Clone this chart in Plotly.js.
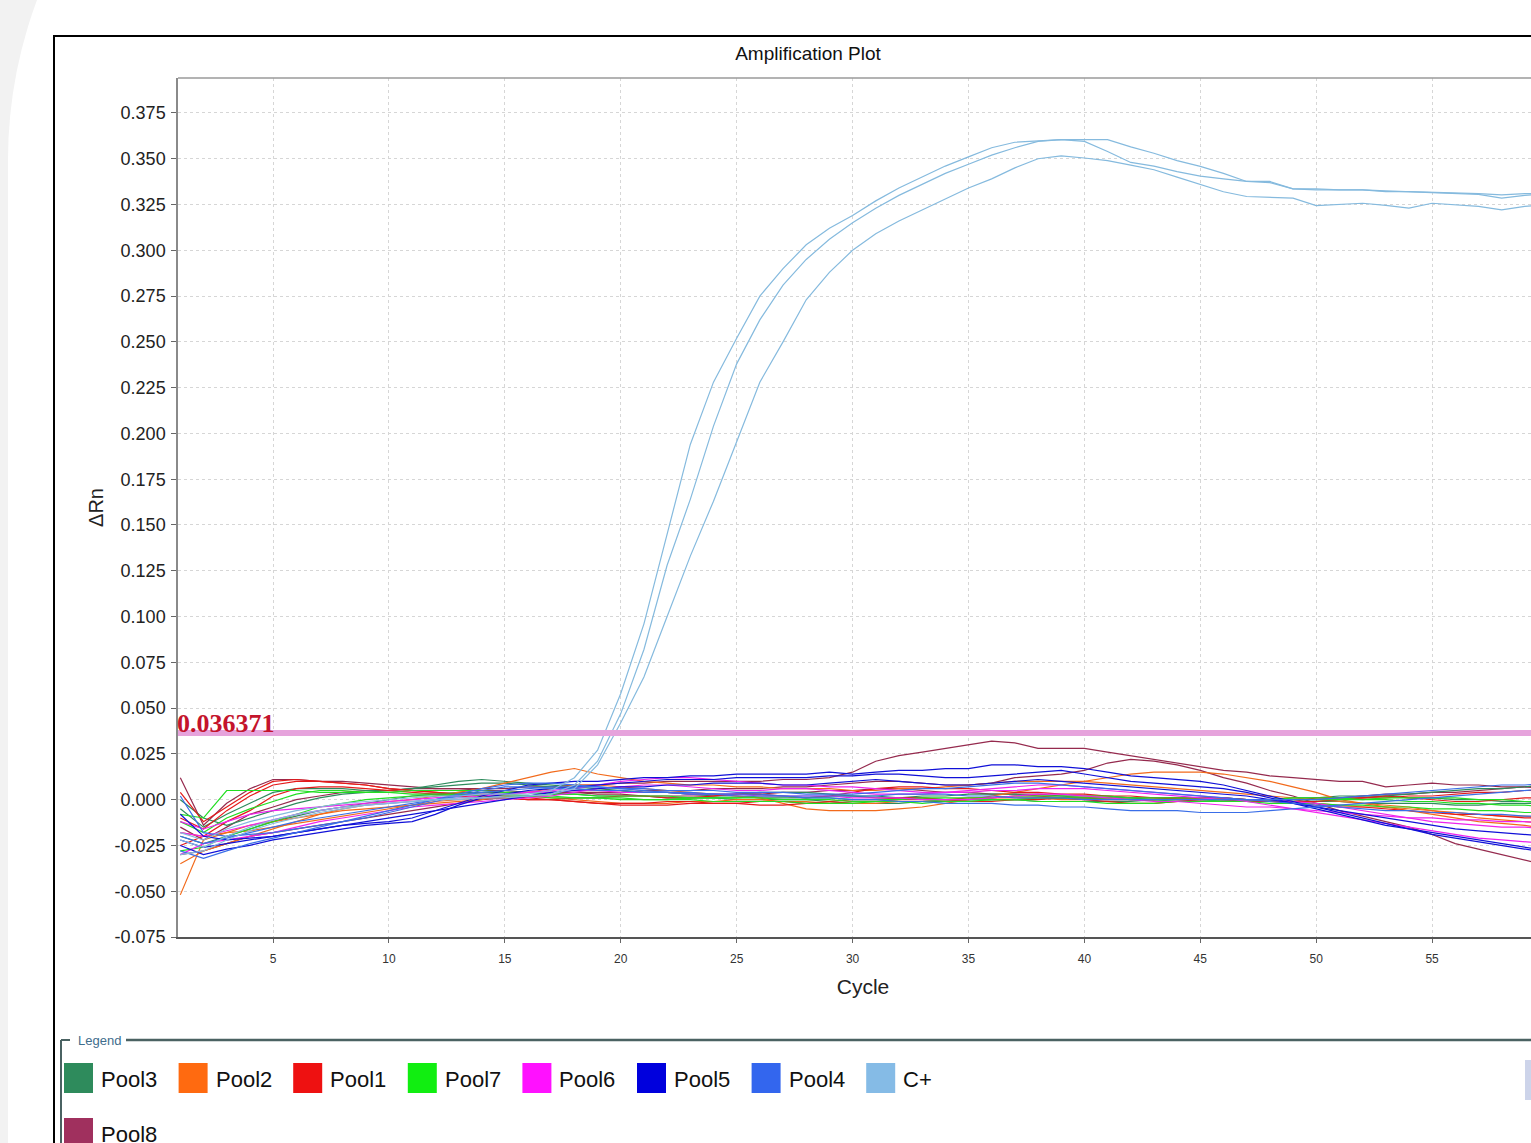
<!DOCTYPE html>
<html>
<head>
<meta charset="utf-8">
<script src="https://cdn.plot.ly/plotly-3.0.1.min.js"></script>
<style>
html,body{margin:0;padding:0;width:1531px;height:1143px;overflow:hidden;background:#f2f2f2;}
#white{position:absolute;left:8px;top:-296px;width:2000px;height:2000px;background:#fff;border-top-left-radius:456px;}
#box{position:absolute;left:53px;top:35px;width:2000px;height:2000px;border:2px solid #000;box-sizing:border-box;background:#fff;}
#chart{position:absolute;left:0;top:0;width:1563px;height:1143px;}
</style>
</head>
<body>
<div id="white"></div>
<div id="box"></div>
<div id="chart"></div>
<script>
// ---------------- DATA ----------------
const cycles = [1,2,3,4,5,6,7,8,9,10,11,12,13,14,15,16,17,18,19,20,21,22,23,24,25,26,27,28,29,30,
  31,32,33,34,35,36,37,38,39,40,41,42,43,44,45,46,47,48,49,50,51,52,53,54,55,56,57,58,59,60];

const threshold = 0.036371;

const xTickVals = [5,10,15,20,25,30,35,40,45,50,55];
const yTickVals = [-0.075,-0.05,-0.025,0,0.025,0.05,0.075,0.1,0.125,0.15,0.175,0.2,0.225,0.25,0.275,0.3,0.325,0.35,0.375];
const yTickText = ['-0.075','-0.050','-0.025','0.000','0.025','0.050','0.075','0.100','0.125','0.150','0.175','0.200','0.225','0.250','0.275','0.300','0.325','0.350','0.375'];

const cplus_a = [-0.018,-0.022,-0.016,-0.012,-0.009,-0.006,-0.004,-0.002,-0.001,0.000,
  0.001,0.002,0.002,0.003,0.003,0.003,0.005,0.012,0.027,0.058,
  0.096,0.145,0.194,0.228,0.252,0.275,0.290,0.303,0.312,0.319,
  0.327,0.334,0.340,0.346,0.351,0.356,0.359,0.3595,0.3604,0.3595,
  0.354,0.348,0.346,0.343,0.3405,0.339,0.3376,0.3376,0.3336,0.3336,
  0.333,0.333,0.332,0.332,0.3317,0.3317,0.331,0.3303,0.331,0.331];
const cplus_b = [-0.022,-0.026,-0.020,-0.015,-0.011,-0.008,-0.006,-0.004,-0.003,-0.002,
  -0.001,0.000,0.001,0.001,0.002,0.002,0.003,0.008,0.021,0.047,
  0.082,0.128,0.164,0.204,0.238,0.262,0.281,0.295,0.306,0.315,
  0.323,0.330,0.336,0.342,0.347,0.352,0.356,0.3595,0.3604,0.3604,
  0.3604,0.3565,0.353,0.349,0.3458,0.342,0.3376,0.337,0.3336,0.333,
  0.333,0.333,0.3325,0.332,0.3317,0.331,0.3305,0.3285,0.330,0.331];
const cplus_c = [-0.030,-0.028,-0.022,-0.017,-0.013,-0.010,-0.007,-0.005,-0.003,-0.002,
  -0.001,0.000,0.000,0.001,0.001,0.002,0.003,0.006,0.019,0.042,
  0.067,0.100,0.133,0.163,0.196,0.228,0.250,0.273,0.288,0.300,
  0.309,0.316,0.322,0.328,0.334,0.339,0.345,0.350,0.3516,0.3504,
  0.349,0.3465,0.344,0.340,0.336,0.332,0.3294,0.329,0.3285,0.3244,
  0.325,0.3257,0.3245,0.323,0.3257,0.325,0.324,0.3221,0.324,0.325];

const pool1_a = [0.004,-0.012,-0.004,0.004,0.010,0.011,0.010,0.009,0.008,0.006,
  0.005,0.004,0.003,0.002,0.001,0.000,0.000,-0.001,-0.002,-0.003,
  -0.003,-0.003,-0.002,-0.002,-0.002,-0.001,-0.001,-0.002,-0.002,-0.001,
  -0.001,0.000,0.000,0.000,0.001,0.001,0.002,0.002,0.001,0.001,
  0.001,0.000,0.000,0.001,0.001,0.001,0.000,0.000,-0.001,-0.001,
  0.000,0.001,0.001,0.002,0.002,0.003,0.004,0.004,0.005,0.005];
const pool1_b = [-0.010,-0.016,-0.006,0.002,0.008,0.010,0.010,0.009,0.008,0.006,
  0.005,0.004,0.003,0.003,0.002,0.001,0.000,-0.001,-0.002,-0.002,
  -0.002,-0.001,-0.001,-0.002,-0.002,-0.003,-0.003,-0.002,-0.001,0.000,
  0.000,0.001,0.001,0.000,-0.001,-0.001,0.000,0.000,0.001,0.000,
  -0.001,-0.002,-0.002,-0.001,0.000,0.000,-0.001,-0.001,-0.001,0.001,
  0.001,0.001,0.002,0.001,0.000,-0.001,-0.001,0.000,0.001,0.001];
const pool1_c = [-0.025,-0.020,-0.012,-0.006,0.002,0.006,0.007,0.007,0.006,0.005,
  0.004,0.003,0.002,0.001,0.001,0.000,0.000,0.001,0.001,0.002,
  0.002,0.001,0.001,0.002,0.003,0.003,0.002,0.001,0.002,0.004,
  0.006,0.007,0.007,0.006,0.006,0.005,0.004,0.004,0.003,0.003,
  0.002,0.002,0.001,0.001,0.001,0.000,0.000,-0.001,-0.002,-0.003,
  -0.004,-0.004,-0.005,-0.006,-0.007,-0.008,-0.008,-0.009,-0.010,-0.010];

const pool8_a = [0.012,-0.014,-0.002,0.006,0.011,0.011,0.010,0.010,0.009,0.008,
  0.007,0.006,0.006,0.006,0.006,0.007,0.007,0.008,0.008,0.009,
  0.009,0.010,0.010,0.010,0.010,0.010,0.011,0.011,0.012,0.015,
  0.021,0.024,0.026,0.028,0.030,0.032,0.031,0.028,0.028,0.028,
  0.026,0.024,0.022,0.020,0.018,0.016,0.015,0.013,0.012,0.011,
  0.010,0.010,0.007,0.008,0.009,0.008,0.008,0.007,0.007,0.006];
const pool8_b = [-0.030,-0.028,-0.024,-0.020,-0.018,-0.016,-0.014,-0.012,-0.010,-0.008,
  -0.006,-0.004,-0.002,0.000,0.001,0.002,0.003,0.004,0.004,0.004,
  0.005,0.005,0.005,0.006,0.006,0.006,0.007,0.007,0.008,0.009,
  0.010,0.010,0.009,0.008,0.008,0.009,0.012,0.013,0.014,0.016,
  0.020,0.022,0.021,0.019,0.016,0.012,0.009,0.005,0.002,-0.002,
  -0.006,-0.009,-0.012,-0.015,-0.019,-0.024,-0.027,-0.030,-0.033,-0.036];
const pool8_c = [-0.015,-0.022,-0.015,-0.008,-0.004,0.000,0.002,0.004,0.005,0.005,
  0.006,0.006,0.006,0.005,0.005,0.004,0.004,0.004,0.003,0.003,
  0.002,0.002,0.002,0.002,0.003,0.003,0.004,0.004,0.005,0.005,
  0.006,0.006,0.005,0.004,0.004,0.003,0.003,0.003,0.002,0.002,
  0.002,0.001,0.001,0.001,0.001,0.001,0.000,0.000,0.000,0.000,
  0.001,0.002,0.003,0.003,0.004,0.004,0.005,0.006,0.007,0.008];

const pool3_a = [-0.005,-0.015,-0.008,-0.002,0.004,0.006,0.006,0.006,0.005,0.005,
  0.006,0.007,0.008,0.009,0.009,0.008,0.007,0.006,0.005,0.005,
  0.004,0.004,0.003,0.003,0.003,0.004,0.004,0.004,0.003,0.002,
  0.001,0.001,0.002,0.002,0.003,0.003,0.003,0.002,0.002,0.001,
  0.001,0.001,0.000,0.000,0.000,0.000,-0.001,-0.001,-0.001,-0.001,
  0.000,0.001,0.002,0.003,0.004,0.005,0.006,0.006,0.007,0.008];
const pool3_b = [0.000,-0.010,-0.014,-0.010,-0.006,-0.002,0.001,0.003,0.004,0.005,
  0.006,0.008,0.010,0.011,0.010,0.009,0.008,0.007,0.006,0.005,
  0.004,0.004,0.003,0.002,0.002,0.001,0.001,0.001,0.002,0.002,
  0.002,0.001,0.001,0.000,0.000,0.000,0.000,0.001,0.001,0.001,
  0.000,0.000,0.000,0.001,0.001,0.001,0.000,0.000,-0.001,-0.001,
  -0.001,-0.002,-0.002,-0.002,-0.002,-0.003,-0.003,-0.002,-0.002,-0.002];
const pool3_c = [-0.020,-0.024,-0.020,-0.016,-0.012,-0.009,-0.006,-0.004,-0.002,0.000,
  0.002,0.003,0.004,0.004,0.004,0.004,0.003,0.003,0.002,0.002,
  0.002,0.001,0.001,0.001,0.000,0.000,0.000,0.000,-0.001,-0.002,
  -0.002,-0.002,-0.001,-0.001,0.000,0.000,0.000,-0.001,-0.001,-0.001,
  -0.001,-0.001,0.000,0.000,0.000,0.000,0.000,0.000,0.001,0.001,
  0.002,0.002,0.002,0.001,0.001,0.000,0.000,-0.001,-0.001,-0.002];

const pool7_a = [-0.008,-0.010,0.005,0.005,0.005,0.005,0.004,0.004,0.004,0.004,
  0.005,0.005,0.005,0.005,0.004,0.004,0.003,0.003,0.002,0.002,
  0.002,0.002,0.001,0.001,0.001,0.001,0.000,0.000,0.000,-0.001,
  -0.001,-0.001,-0.002,-0.001,-0.001,0.000,0.000,0.001,0.001,0.001,
  0.001,0.000,0.000,-0.001,-0.001,0.000,0.000,0.000,0.001,0.001,
  0.001,0.000,0.000,-0.001,-0.001,-0.002,-0.002,-0.003,-0.003,-0.004];
const pool7_b = [-0.012,-0.018,-0.010,-0.005,-0.001,0.003,0.005,0.005,0.004,0.004,
  0.003,0.003,0.003,0.002,0.002,0.002,0.001,0.001,0.001,0.000,
  0.000,0.000,0.001,0.001,0.001,0.002,0.002,0.001,0.001,0.000,
  0.000,0.000,0.001,0.001,0.001,0.001,0.002,0.002,0.002,0.002,
  0.002,0.001,0.001,0.001,0.001,0.000,0.000,0.000,0.000,0.000,
  0.000,0.000,0.001,0.001,0.001,0.001,0.000,0.000,-0.001,-0.001];
const pool7_c = [-0.028,-0.026,-0.020,-0.016,-0.012,-0.008,-0.004,-0.002,0.000,0.001,
  0.002,0.002,0.003,0.003,0.003,0.002,0.002,0.001,0.001,0.001,
  0.000,0.000,0.000,-0.001,-0.001,-0.001,-0.001,-0.002,-0.002,-0.002,
  -0.001,-0.001,-0.001,0.000,0.000,0.000,0.000,-0.001,-0.001,-0.001,
  -0.002,-0.002,-0.002,-0.001,-0.001,-0.001,-0.001,-0.002,-0.002,-0.002,
  -0.003,-0.003,-0.004,-0.004,-0.005,-0.005,-0.006,-0.006,-0.007,-0.007];

const pool2_a = [-0.052,-0.022,-0.018,-0.014,-0.012,-0.010,-0.008,-0.006,-0.005,-0.004,
  -0.003,-0.002,-0.001,0.000,0.002,0.004,0.006,0.008,0.008,0.007,
  0.006,0.005,0.004,0.003,0.002,0.001,-0.002,-0.005,-0.006,-0.006,
  -0.006,-0.005,-0.004,-0.002,0.000,0.002,0.004,0.006,0.008,0.010,
  0.012,0.014,0.015,0.015,0.015,0.014,0.012,0.010,0.007,0.004,
  0.000,-0.002,-0.004,-0.006,-0.008,-0.010,-0.012,-0.013,-0.014,-0.016];
const pool2_b = [-0.035,-0.028,-0.024,-0.020,-0.016,-0.012,-0.008,-0.005,-0.003,-0.001,
  0.000,0.002,0.004,0.006,0.009,0.012,0.015,0.017,0.014,0.012,
  0.010,0.009,0.008,0.008,0.007,0.007,0.006,0.006,0.006,0.005,
  0.005,0.006,0.006,0.007,0.008,0.009,0.010,0.010,0.010,0.010,
  0.009,0.008,0.007,0.006,0.005,0.004,0.003,0.002,0.001,0.000,
  -0.001,-0.002,-0.003,-0.004,-0.006,-0.008,-0.010,-0.011,-0.012,-0.013];
const pool2_c = [-0.018,-0.020,-0.018,-0.017,-0.015,-0.013,-0.011,-0.009,-0.007,-0.005,
  -0.003,-0.001,0.000,0.001,0.002,0.002,0.001,0.000,-0.001,-0.002,
  -0.002,-0.002,-0.001,-0.001,0.000,0.000,-0.001,-0.001,-0.002,-0.002,
  -0.002,-0.001,-0.001,0.000,0.000,0.001,0.001,0.001,0.000,0.000,
  0.000,0.000,0.000,0.000,0.000,0.000,0.000,0.000,-0.001,-0.002,
  -0.003,-0.004,-0.004,-0.005,-0.006,-0.007,-0.008,-0.009,-0.009,-0.010];

const pool6_a = [-0.018,-0.020,-0.017,-0.014,-0.011,-0.008,-0.006,-0.004,-0.003,-0.002,
  -0.001,0.000,0.001,0.002,0.003,0.004,0.005,0.006,0.008,0.010,
  0.011,0.012,0.012,0.011,0.010,0.009,0.008,0.008,0.007,0.007,
  0.006,0.005,0.004,0.004,0.004,0.005,0.005,0.006,0.006,0.006,
  0.005,0.004,0.003,0.002,0.001,0.000,0.000,0.000,-0.001,-0.002,
  -0.004,-0.006,-0.008,-0.010,-0.012,-0.013,-0.014,-0.015,-0.015,-0.016];
const pool6_b = [-0.030,-0.024,-0.022,-0.020,-0.018,-0.015,-0.012,-0.010,-0.008,-0.006,
  -0.004,-0.003,-0.002,-0.001,0.000,0.001,0.002,0.004,0.006,0.007,
  0.008,0.008,0.007,0.006,0.005,0.005,0.006,0.006,0.005,0.004,
  0.003,0.003,0.003,0.004,0.005,0.006,0.007,0.008,0.008,0.007,
  0.006,0.005,0.004,0.003,0.002,0.001,-0.001,-0.003,-0.005,-0.007,
  -0.009,-0.011,-0.013,-0.015,-0.017,-0.019,-0.021,-0.022,-0.023,-0.024];
const pool6_c = [-0.012,-0.016,-0.012,-0.008,-0.006,-0.005,-0.004,-0.003,-0.002,-0.001,
  0.000,0.001,0.002,0.003,0.003,0.004,0.004,0.005,0.005,0.004,
  0.004,0.004,0.003,0.003,0.003,0.002,0.002,0.002,0.002,0.001,
  0.001,0.001,0.000,0.000,0.000,0.001,0.002,0.003,0.003,0.002,
  0.001,0.000,-0.001,-0.001,-0.002,-0.003,-0.004,-0.004,-0.005,-0.006,
  -0.007,-0.008,-0.009,-0.010,-0.010,-0.011,-0.011,-0.012,-0.012,-0.013];

const pool5_a = [-0.022,-0.026,-0.024,-0.022,-0.020,-0.018,-0.016,-0.014,-0.013,-0.012,
  -0.010,-0.006,-0.002,0.002,0.005,0.008,0.009,0.010,0.010,0.011,
  0.012,0.012,0.013,0.013,0.014,0.014,0.014,0.014,0.015,0.014,
  0.015,0.016,0.016,0.017,0.017,0.019,0.019,0.018,0.018,0.017,
  0.015,0.013,0.012,0.011,0.010,0.008,0.005,0.002,-0.001,-0.004,
  -0.007,-0.010,-0.013,-0.016,-0.019,-0.021,-0.023,-0.025,-0.027,-0.029];
const pool5_b = [-0.025,-0.030,-0.027,-0.025,-0.022,-0.020,-0.018,-0.016,-0.014,-0.013,
  -0.012,-0.008,-0.003,0.001,0.003,0.005,0.006,0.007,0.008,0.009,
  0.010,0.011,0.011,0.011,0.012,0.012,0.012,0.012,0.013,0.013,
  0.014,0.014,0.013,0.012,0.012,0.013,0.014,0.015,0.016,0.014,
  0.012,0.010,0.009,0.008,0.007,0.006,0.004,0.001,-0.002,-0.005,
  -0.008,-0.011,-0.014,-0.016,-0.018,-0.020,-0.022,-0.024,-0.026,-0.028];
const pool5_c = [-0.008,-0.020,-0.022,-0.021,-0.020,-0.018,-0.016,-0.014,-0.012,-0.010,
  -0.008,-0.006,-0.004,-0.002,0.000,0.002,0.004,0.005,0.006,0.007,
  0.007,0.008,0.008,0.009,0.009,0.009,0.008,0.008,0.009,0.010,
  0.011,0.010,0.009,0.008,0.008,0.009,0.010,0.011,0.010,0.009,
  0.008,0.007,0.006,0.005,0.004,0.003,0.002,0.000,-0.002,-0.004,
  -0.006,-0.008,-0.010,-0.012,-0.014,-0.016,-0.017,-0.018,-0.019,-0.020];

const pool4_a = [0.002,-0.018,-0.020,-0.019,-0.018,-0.016,-0.014,-0.012,-0.010,-0.007,
  -0.004,-0.001,0.002,0.005,0.007,0.007,0.006,0.006,0.005,0.005,
  0.004,0.004,0.003,0.003,0.002,0.002,0.002,0.001,0.001,0.000,
  0.000,-0.001,-0.001,-0.002,-0.002,-0.002,-0.003,-0.003,-0.004,-0.004,
  -0.005,-0.006,-0.006,-0.006,-0.007,-0.007,-0.007,-0.006,-0.005,-0.004,
  -0.003,-0.002,-0.001,0.000,0.001,0.002,0.003,0.004,0.005,0.006];
const pool4_b = [-0.020,-0.024,-0.021,-0.018,-0.015,-0.012,-0.010,-0.008,-0.006,-0.004,
  -0.002,0.000,0.002,0.004,0.005,0.006,0.007,0.007,0.007,0.006,
  0.006,0.005,0.005,0.005,0.004,0.004,0.004,0.003,0.003,0.003,
  0.004,0.005,0.006,0.006,0.007,0.008,0.009,0.009,0.008,0.007,
  0.006,0.005,0.004,0.003,0.002,0.001,0.000,-0.001,-0.002,-0.003,
  -0.004,-0.005,-0.006,-0.006,-0.007,-0.007,-0.008,-0.008,-0.009,-0.009];
const pool4_c = [-0.028,-0.032,-0.028,-0.024,-0.021,-0.018,-0.015,-0.012,-0.009,-0.006,
  -0.003,0.000,0.003,0.006,0.008,0.009,0.009,0.008,0.007,0.006,
  0.005,0.004,0.004,0.003,0.003,0.003,0.002,0.002,0.002,0.002,
  0.002,0.003,0.003,0.003,0.002,0.002,0.001,0.001,0.001,0.000,
  0.000,0.000,0.000,0.000,0.000,0.000,0.000,0.000,0.000,0.000,
  0.001,0.002,0.003,0.004,0.005,0.006,0.007,0.008,0.008,0.009];

const legendNames  = ['Pool3','Pool2','Pool1','Pool7','Pool6','Pool5','Pool4','C+','Pool8'];
const legendColors = ['#2e8b5c','#ff6a10','#ee1111','#11ee11','#ff11ff','#0000dd','#3366ee','#85bbe6','#a0305e'];
const lineColors   = ['#2e8b5c','#f26a1b','#e41a1a','#22dd22','#ee22ee','#1010d8','#3a6ee8','#85bade','#952a4e'];

// replicate series per legend entry (same order as legendNames)
const seriesByPool = [
  [pool3_a, pool3_b, pool3_c],
  [pool2_a, pool2_b, pool2_c],
  [pool1_a, pool1_b, pool1_c],
  [pool7_a, pool7_b, pool7_c],
  [pool6_a, pool6_b, pool6_c],
  [pool5_a, pool5_b, pool5_c],
  [pool4_a, pool4_b, pool4_c],
  [cplus_a, cplus_b, cplus_c],
  [pool8_a, pool8_b, pool8_c]
];

// ---------------- LAYOUT HELPERS ----------------
const W = 1563, H = 1143;
const PL = 178, PR = 1548, PT = 78, PB = 937;
const px = x => (x - PL) / (PR - PL);
const py = y => (PB - y) / (PB - PT);
const FONT = 'Liberation Sans, Arial, sans-serif';

const traces = [];
const drawOrder = [8,0,1,2,3,4,5,6,7];
drawOrder.forEach(i => {
  seriesByPool[i].forEach((s, k) => {
    traces.push({
      x: cycles, y: s, type: 'scatter', mode: 'lines',
      name: legendNames[i], legendgroup: legendNames[i], showlegend: false,
      line: {color: lineColors[i], width: 1.2},
      hoverinfo: 'x+y+name'
    });
  });
});

const shapes = [];
const annotations = [];

// threshold line
shapes.push({type:'line', xref:'paper', yref:'y', x0:0, x1:1, y0:threshold, y1:threshold,
  line:{color:'#e6a3dc', width:6}, layer:'above'});
annotations.push({xref:'paper', yref:'y', x:0, y:threshold, xanchor:'left', yanchor:'bottom',
  xshift:-3, yshift:-7, text:'<b>' + threshold.toFixed(6) + '</b>', showarrow:false,
  font:{family:'Liberation Serif, Times New Roman, serif', size:26, color:'#c4142c'}});

// top border of plot
shapes.push({type:'line', xref:'paper', yref:'paper', x0:0, x1:1, y0:1, y1:1, line:{color:'#9a9a9a', width:1.5}});

// legend frame
const LG = '#4a6262';
shapes.push({type:'line', xref:'paper', yref:'paper', x0:px(61), x1:px(61), y0:py(1040), y1:py(1160), line:{color:LG, width:2}});
shapes.push({type:'line', xref:'paper', yref:'paper', x0:px(61), x1:px(70), y0:py(1040), y1:py(1040), line:{color:LG, width:2}});
shapes.push({type:'line', xref:'paper', yref:'paper', x0:px(126), x1:px(1560), y0:py(1040), y1:py(1040), line:{color:LG, width:2.5}});
annotations.push({xref:'paper', yref:'paper', x:px(76), y:py(1040), xanchor:'left', yanchor:'middle',
  text:'Legend', showarrow:false, font:{family:FONT, size:13, color:'#3f6d8c'}});
// small scroll control at right
shapes.push({type:'rect', xref:'paper', yref:'paper', x0:px(1525), x1:px(1533), y0:py(1100), y1:py(1060),
  fillcolor:'#cdd4ea', line:{width:0}});

legendNames.forEach((nm, i) => {
  const row = i < 8 ? 0 : 1;
  const col = i < 8 ? i : 0;
  const x0 = 64 + col * 114.6;
  const y0 = 1063 + row * 55;
  shapes.push({type:'rect', xref:'paper', yref:'paper', x0:px(x0), x1:px(x0 + 29), y0:py(y0 + 30), y1:py(y0),
    fillcolor:legendColors[i], line:{width:0}});
  annotations.push({xref:'paper', yref:'paper', x:px(x0 + 35), y:py(y0 + 16), xanchor:'left', yanchor:'middle',
    text:nm, showarrow:false, font:{family:FONT, size:22, color:'#111'}});
});

const layout = {
  width: W, height: H,
  paper_bgcolor: 'rgba(0,0,0,0)', plot_bgcolor: '#ffffff',
  margin: {l: PL, r: W - PR, t: PT, b: H - PB, pad: 0},
  showlegend: false,
  font: {family: FONT, color: '#222'},
  title: {text: 'Amplification Plot', x: 808 / W, xref: 'container', xanchor: 'center',
    y: 1 - 53 / H, yref: 'container', yanchor: 'middle', font: {family: FONT, size: 19, color: '#111'}},
  xaxis: {
    range: [0.9, 60.0], tickmode: 'array', tickvals: xTickVals, showgrid: true, gridcolor: '#d6d6d6', griddash: '3px,3px',
    zeroline: false, showline: true, linecolor: '#555', linewidth: 1.5, ticks: 'outside', ticklen: 4,
    tickcolor: '#666', tickfont: {family: FONT, size: 12, color: '#333'}, ticklabelstandoff: 6,
    title: {text: 'Cycle', font: {family: FONT, size: 21, color: '#222'}, standoff: 14}
  },
  yaxis: {
    range: [-0.075, 0.3941], tickmode: 'array', tickvals: yTickVals, ticktext: yTickText, showgrid: true,
    gridcolor: '#d6d6d6', griddash: '3px,3px', zeroline: false, showline: true, linecolor: '#8a8a8a',
    linewidth: 1.5, ticks: 'outside', ticklen: 5, tickcolor: '#666',
    tickfont: {family: FONT, size: 18, color: '#222'}, ticklabelstandoff: 2,
    title: {text: 'ΔRn', font: {family: FONT, size: 20, color: '#222'}, standoff: 6}
  },
  shapes: shapes,
  annotations: annotations
};

Plotly.newPlot('chart', traces, layout, {displayModeBar: false});
</script>
</body>
</html>
